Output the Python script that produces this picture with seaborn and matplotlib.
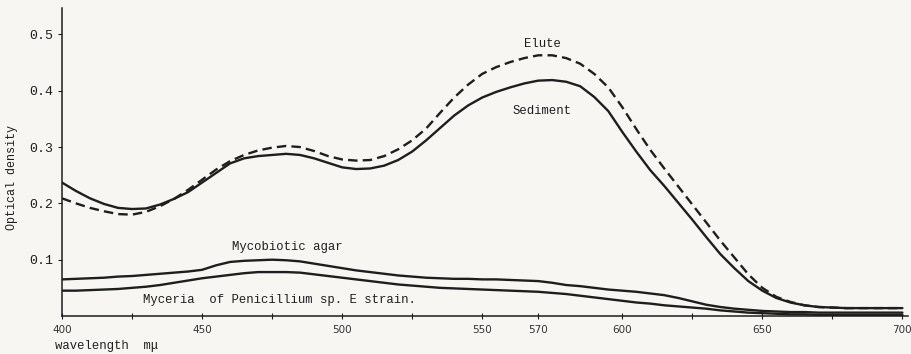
import matplotlib
matplotlib.use("Agg")
import matplotlib.pyplot as plt
import pandas as pd
import seaborn as sns

# Absorption spectra (optical density vs. wavelength, m\u03bc)
wavelength = [400, 405, 410, 415, 420, 425, 430, 435, 440, 445,
              450, 455, 460, 465, 470, 475, 480, 485, 490, 495,
              500, 505, 510, 515, 520, 525, 530, 535, 540, 545,
              550, 555, 560, 565, 570, 575, 580, 585, 590, 595,
              600, 605, 610, 615, 620, 625, 630, 635, 640, 645,
              650, 655, 660, 665, 670, 680, 690, 700]

sediment = [0.237, 0.222, 0.209, 0.199, 0.192, 0.190, 0.191, 0.198, 0.208, 0.220,
            0.237, 0.254, 0.271, 0.280, 0.284, 0.286, 0.288, 0.286, 0.280, 0.272,
            0.264, 0.261, 0.262, 0.267, 0.277, 0.292, 0.312, 0.334, 0.356, 0.374,
            0.388, 0.398, 0.406, 0.413, 0.418, 0.419, 0.416, 0.408, 0.389, 0.364,
            0.327, 0.292, 0.259, 0.231, 0.201, 0.171, 0.140, 0.110, 0.085, 0.062,
            0.045, 0.032, 0.024, 0.019, 0.016, 0.014, 0.014, 0.014]

elute = [0.209, 0.200, 0.192, 0.186, 0.181, 0.180, 0.185, 0.195, 0.208, 0.224,
         0.242, 0.260, 0.275, 0.286, 0.294, 0.299, 0.302, 0.300, 0.293, 0.284,
         0.278, 0.276, 0.277, 0.284, 0.296, 0.312, 0.333, 0.361, 0.388, 0.411,
         0.430, 0.442, 0.451, 0.458, 0.463, 0.463, 0.458, 0.448, 0.430, 0.406,
         0.371, 0.332, 0.295, 0.262, 0.230, 0.198, 0.166, 0.134, 0.104, 0.074,
         0.050, 0.034, 0.025, 0.019, 0.016, 0.014, 0.014, 0.014]

mycobiotic_agar = [0.065, 0.066, 0.067, 0.068, 0.070, 0.071, 0.073, 0.075, 0.077, 0.079,
                   0.082, 0.090, 0.096, 0.098, 0.099, 0.100, 0.099, 0.097, 0.093, 0.089,
                   0.085, 0.081, 0.078, 0.075, 0.072, 0.070, 0.068, 0.067, 0.066, 0.066,
                   0.065, 0.065, 0.064, 0.063, 0.062, 0.059, 0.055, 0.053, 0.050, 0.047,
                   0.045, 0.043, 0.040, 0.037, 0.032, 0.026, 0.020, 0.016, 0.013, 0.011,
                   0.009, 0.008, 0.007, 0.007, 0.006, 0.006, 0.006, 0.006]

mycelia = [0.045, 0.045, 0.046, 0.047, 0.048, 0.050, 0.052, 0.055, 0.059, 0.063,
           0.067, 0.070, 0.073, 0.076, 0.078, 0.078, 0.078, 0.077, 0.074, 0.071,
           0.068, 0.065, 0.062, 0.059, 0.056, 0.054, 0.052, 0.050, 0.049, 0.048,
           0.047, 0.046, 0.045, 0.044, 0.043, 0.041, 0.039, 0.036, 0.033, 0.030,
           0.027, 0.024, 0.022, 0.019, 0.017, 0.015, 0.013, 0.010, 0.008, 0.006,
           0.005, 0.004, 0.003, 0.003, 0.002, 0.002, 0.002, 0.002]

x_major = [400, 450, 500, 550, 570, 600, 650, 700]
x_minor = [425, 475, 525, 625, 675]
y_ticks = [0.1, 0.2, 0.3, 0.4, 0.5]
y_ticklabels = ["0.1", "0.2", "0.3", "0.4", "0.5"]

series = {
    "Sediment": sediment,
    "Elute": elute,
    "Mycobiotic agar": mycobiotic_agar,
    "Mycelia": mycelia,
}
df = pd.concat(
    [pd.DataFrame({"wavelength": wavelength, "od": vals, "sample": name})
     for name, vals in series.items()],
    ignore_index=True,
)

sns.set_style("ticks")
paper = "#f7f6f3"
ink = "#1e1e1e"
mono = ["Liberation Mono", "DejaVu Sans Mono"]
plt.rcParams["font.family"] = mono

fig = plt.figure(figsize=(9.12, 3.54), dpi=100, facecolor=paper)
ax = fig.add_axes([62 / 912, 1 - 316 / 354, 846 / 912, 308 / 354])
ax.set_facecolor(paper)

sns.lineplot(
    data=df, x="wavelength", y="od", hue="sample", style="sample",
    palette={k: ink for k in series},
    dashes={"Sediment": "", "Elute": (4, 2.2), "Mycobiotic agar": "", "Mycelia": ""},
    linewidth=1.7, estimator=None, sort=False, legend=False, ax=ax,
)

ax.set_xlim(400, 702)
ax.set_ylim(0, 0.547)

for side in ("top", "right"):
    ax.spines[side].set_visible(False)
for side in ("left", "bottom"):
    ax.spines[side].set_color(ink)
    ax.spines[side].set_linewidth(1.1)

ax.set_xticks(x_major)
ax.set_xticklabels([str(v) for v in x_major], family=["DejaVu Sans"], fontsize=7.5, color="#333333")
ax.set_xticks(x_minor, minor=True)
ax.tick_params(axis="x", which="both", direction="inout", length=5, width=0.8, color=ink, pad=4)
ax.set_yticks(y_ticks)
ax.set_yticklabels(y_ticklabels, fontsize=9.5, color=ink)
ax.tick_params(axis="y", direction="out", length=3, width=0.8, color=ink, pad=3)

ax.set_xlabel("")
ax.set_ylabel("")

label_kw = dict(fontsize=8.8, color=ink, va="center")
ax.text(571.4, 0.483, "Elute", ha="center", **label_kw)
ax.text(560.7, 0.364, "Sediment", ha="left", **label_kw)
ax.text(460.7, 0.1226, "Mycobiotic agar", ha="left", **label_kw)
ax.text(428.9, 0.028, "Myceria  of Penicillium sp. E strain.", ha="left", **label_kw)

fig.text(12 / 912, 1 - 178 / 354, "Optical density", rotation=90,
         ha="center", va="center", fontsize=8.5, color=ink)
fig.text(55 / 912, 1 - 346 / 354, "wavelength  m\u03bc", ha="left", va="center",
         fontsize=8.8, color=ink)

fig.savefig("out.png", dpi=100, facecolor=paper)
